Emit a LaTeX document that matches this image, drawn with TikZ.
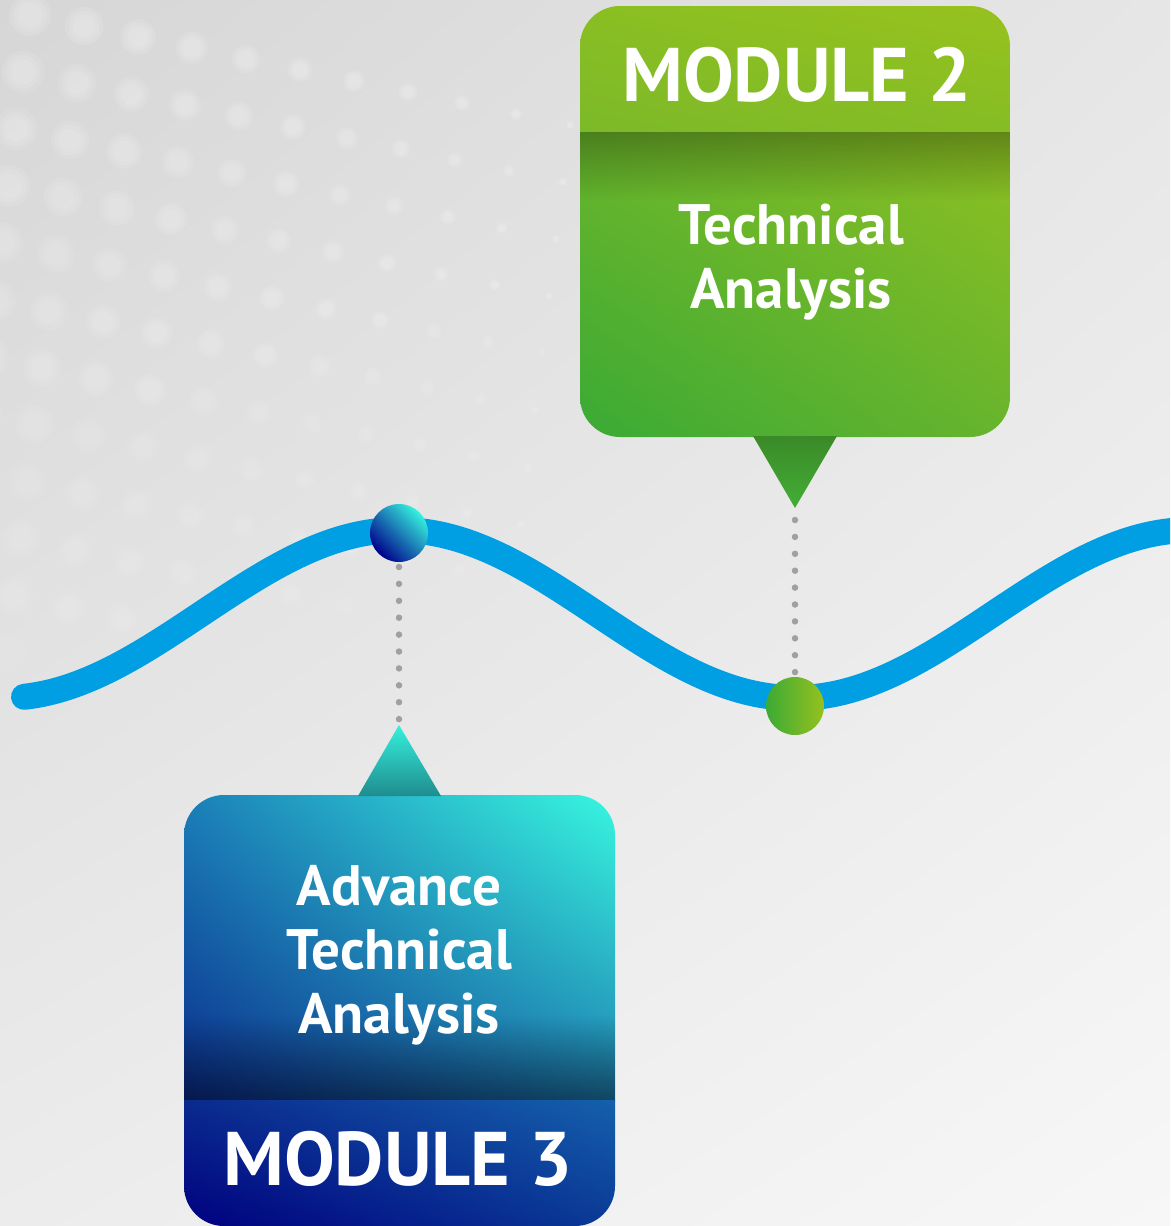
\documentclass[tikz,border=0pt]{standalone}
\usepackage{fontspec}
\setmainfont{PT Sans}
\usetikzlibrary{fadings,shadings}
\definecolor{bgul}{HTML}{D6D6D6}
\definecolor{bgur}{HTML}{E6E6E6}
\definecolor{bgll}{HTML}{ECECEC}
\definecolor{bglr}{HTML}{F7F7F7}
\definecolor{wave}{HTML}{009FE3}
\definecolor{dotgray}{HTML}{A0A0A0}
% module 2
\definecolor{hTwoUL}{HTML}{8ABF22}
\definecolor{hTwoUR}{HTML}{97C21E}
\definecolor{hTwoLL}{HTML}{7CB929}
\definecolor{hTwoLR}{HTML}{86BD24}
\definecolor{gTwoUL}{HTML}{6AB52B}
\definecolor{gTwoUR}{HTML}{8DC022}
\definecolor{gTwoLL}{HTML}{3AAA35}
\definecolor{gTwoLR}{HTML}{68B42D}
\definecolor{tTwoTop}{HTML}{3A8A28}
\definecolor{tTwoBot}{HTML}{44AE36}
% module 3
\definecolor{gThrUL}{HTML}{1B7FB8}
\definecolor{gThrUR}{HTML}{38F7DF}
\definecolor{gThrLL}{HTML}{0B2C8C}
\definecolor{gThrLR}{HTML}{1F80B2}
\definecolor{hThrUL}{HTML}{0A2A8E}
\definecolor{hThrUR}{HTML}{1560AC}
\definecolor{hThrLL}{HTML}{00007F}
\definecolor{hThrLR}{HTML}{0A3A96}
\definecolor{tThrTop}{HTML}{35F0DC}
\definecolor{tThrBot}{HTML}{1F8C8F}
\definecolor{ballDark}{HTML}{00008B}
\definecolor{ballLight}{HTML}{35F2DE}
\definecolor{gballL}{HTML}{3DAA35}
\definecolor{gballR}{HTML}{95C11F}
\tikzset{
  dotline/.style={draw=dotgray, line width=6.5pt, line cap=round, dash pattern=on 0pt off 16.9pt},
  titletext/.style={text=white, font=\fontsize{76}{80}\selectfont\bfseries, inner sep=0pt, anchor=base},
  bodytext/.style={text=white, font=\fontsize{57}{64}\selectfont\bfseries, inner sep=0pt, align=center, anchor=base},
}
\begin{document}
\begin{tikzpicture}[x=1pt,y=-1pt]
\useasboundingbox (0,0) rectangle (1170,1226);
\begin{scope}
\clip (0,0) rectangle (1170,1226);
% background
\shade[upper left=bgul, upper right=bgur, lower left=bgll, lower right=bglr] (0,0) rectangle (1170,1226);
% halftone dots (soft)
\foreach \i in {0,...,11}{
  \foreach \j in {0,...,15}{
    \pgfmathsetmacro{\cx}{30+54*\i-7*\j}
    \pgfmathsetmacro{\cy}{15+11*\i+57*\j}
    \pgfmathsetmacro{\rr}{22-0.03*\cx-0.004*\cy}
    \pgfmathsetmacro{\op}{max(0,0.11*(1-\cy/950))}
    \ifdim\rr pt>4pt
      \fill[white, opacity=\op] (\cx,\cy) circle[radius=\rr];
      \fill[white, opacity=\op] (\cx,\cy) circle[radius=0.8*\rr];
      \fill[white, opacity=\op] (\cx,\cy) circle[radius=0.6*\rr];
    \fi
  }
}
% wave
\draw[wave, line width=26pt, line cap=round] plot[domain=24:1200, samples=150, smooth] (\x,{614+84*cos((\x-3)/2.2)});
\end{scope}

% ---------- Module 2 ----------
\begin{scope}
\clip[rounded corners=40pt] (580,6) rectangle (1010,437);
\shade[upper left=gTwoUL, upper right=gTwoUR, lower left=gTwoLL, lower right=gTwoLR] (580,131) rectangle (1010,437);
\fill[black, opacity=0.3, path fading=south] (580,131) rectangle (1010,200);
\shade[upper left=hTwoUL, upper right=hTwoUR, lower left=hTwoLL, lower right=hTwoLR] (580,6) rectangle (1010,131);
\end{scope}
\shade[top color=tTwoTop, bottom color=tTwoBot] (753,436) -- (837,436) -- (795,508) -- cycle;
\coordinate (m2tip) at (795,508);
\node[titletext] (m2title) at (797,101) {MODULE 2};
\node[bodytext] (m2text) at (791,308) {Technical\\Analysis};

% ---------- Module 3 ----------
\begin{scope}
\clip[rounded corners=40pt] (184,795) rectangle (615,1226);
\shade[upper left=gThrUL, upper right=gThrUR, lower left=gThrLL, lower right=gThrLR] (184,795) rectangle (615,1100);
\fill[black, opacity=0.45, path fading=north] (184,1015) rectangle (615,1100);
\shade[upper left=hThrUL, upper right=hThrUR, lower left=hThrLL, lower right=hThrLR] (184,1100) rectangle (615,1226);
\end{scope}
\shade[top color=tThrTop, bottom color=tThrBot] (358,796) -- (441,796) -- (399,725) -- cycle;
\coordinate (m3tip) at (399,725);
\node[bodytext] (m3text) at (399,1033) {Advance\\Technical\\Analysis};
\node[titletext] (m3title) at (398,1185) {MODULE 3};

% ---------- balls and dotted connectors ----------
\node[circle, minimum size=58pt, inner sep=0pt, shading=axis, left color=ballDark, right color=ballLight, shading angle=135] (ball3) at (399,533) {};
\node[circle, minimum size=58pt, inner sep=0pt, left color=gballL, right color=gballR] (ball2) at (795,706) {};
\coordinate (d2a) at (795,520);
\coordinate (d2b) at (795,673);
\coordinate (d3a) at (399,567);
\coordinate (d3b) at (399,720);
\draw[dotline] (d2a) -- (d2b);
\draw[dotline] (d3a) -- (d3b);
\end{tikzpicture}
\end{document}
